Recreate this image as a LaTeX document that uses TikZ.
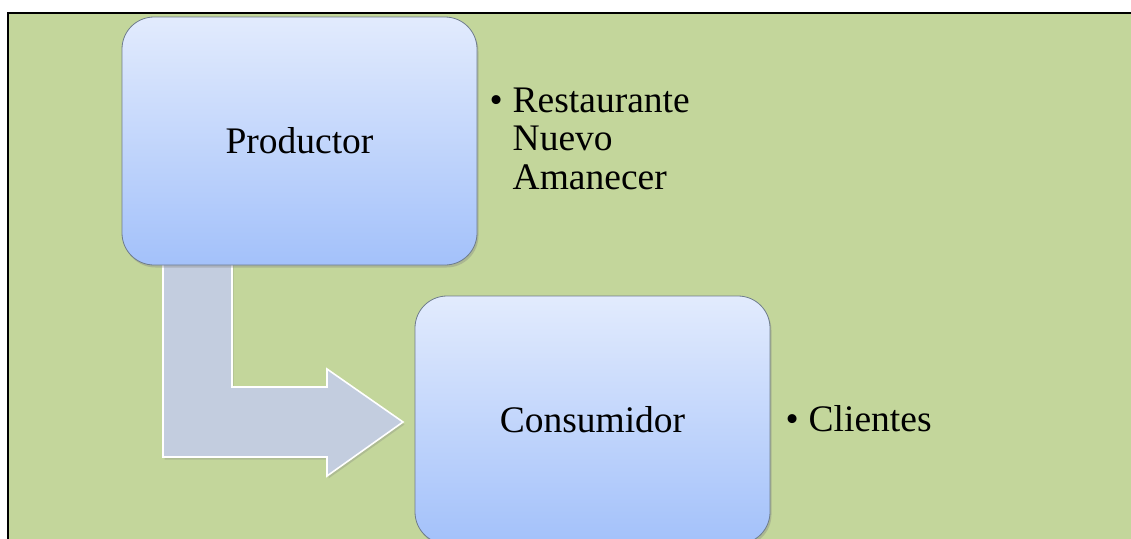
\documentclass[tikz,border=0pt]{standalone}
\usepackage{fontspec}
\setmainfont{Liberation Serif}
\usetikzlibrary{shadows,calc}

\definecolor{panelgreen}{HTML}{C3D69B}
\definecolor{boxtop}{HTML}{E2EBFD}
\definecolor{boxbottom}{HTML}{A3C1FA}
\definecolor{boxline}{HTML}{6E7C8C}
\definecolor{arrowfill}{HTML}{C3CDDF}

\tikzset{
  stagebox/.style={
    rounded corners=32pt, draw=boxline, line width=0.8pt,
    top color=boxtop, bottom color=boxbottom,
    minimum width=355pt, minimum height=248pt,
    font=\fontsize{37.5}{40}\selectfont,
    drop shadow={opacity=0.35, shadow xshift=1.5pt, shadow yshift=-2.5pt}
  },
  bulletlist/.style={
    anchor=base west, inner sep=0pt, align=left,
    font=\fontsize{37.5}{38.3}\selectfont
  },
  flowarrow/.style={
    fill=arrowfill, draw=white, line width=1.6pt, line join=miter,
    drop shadow={opacity=0.3, shadow xshift=1.5pt, shadow yshift=-2.5pt}
  }
}

\begin{document}
\begin{tikzpicture}[x=1pt, y=-1pt]
  \useasboundingbox (0,0) rectangle (1131,538);

  % panel with its frame (right and bottom edges lie past the page)
  \fill[panelgreen] (8,13) rectangle (1140,545);
  \draw[black, line width=2pt] (8,545) -- (8,13) -- (1140,13);

  % node positions
  \coordinate (pc) at (299.5,141);
  \coordinate (cc) at (592.5,420);

  % bent arrow from Productor down and across to Consumidor
  \path[flowarrow]
    ($(pc)+(-136.5,110)$) -- ($(pc)+(-136.5,316)$) -- ($(pc)+(27.5,316)$)
    -- ($(pc)+(27.5,335)$) -- ($(cc)+(-189.5,2)$) -- ($(pc)+(27.5,228)$)
    -- ($(pc)+(27.5,246)$) -- ($(pc)+(-67.5,246)$) -- ($(pc)+(-67.5,110)$) -- cycle;

  \node[stagebox] (prod) at (pc) {Productor};
  \node[stagebox] (cons) at (cc) {Consumidor};

  \node[bulletlist] (prodlist) at ($(prod.north east)+(12,96)$)
    {\begin{tabular}[t]{@{}l@{\hspace{10pt}}l@{}}
       \textbullet & Restaurante\\
                   & Nuevo\\
                   & Amanecer
     \end{tabular}};
  \node[bulletlist] (conslist) at ($(cons.east)+(15,11)$)
    {\textbullet\hspace{10pt}Clientes};
\end{tikzpicture}
\end{document}
